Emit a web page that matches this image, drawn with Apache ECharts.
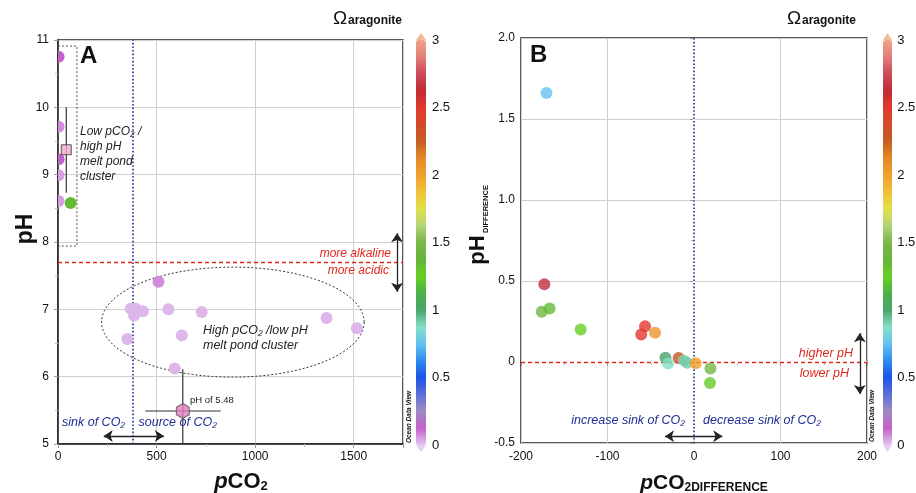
<!DOCTYPE html>
<html><head><meta charset="utf-8">
<script src="https://cdn.jsdelivr.net/npm/echarts@6/dist/echarts.min.js"></script>
<style>html,body{margin:0;padding:0;background:#fff}#c{width:916px;height:493px}</style>
</head><body><div id="c"></div>
<script>
// ---------- Panel A: pH vs pCO2 ----------
const pco2A  = [3, 3, 3, 3, 3, 64, 510, 369, 394, 386, 431, 560, 729, 1362, 1516, 352, 628, 592];
const phA    = [10.75, 9.71, 9.23, 8.99, 8.61, 8.58, 7.41, 7.01, 7.01, 6.91, 6.97, 7.00, 6.96, 6.87, 6.72, 6.56, 6.61, 6.12];
const omegaA = [0.13, 0.07, 0.14, 0.05, 0.05, 1.35, 0.07, 0.02, 0.02, 0.02, 0.02, 0.02, 0.02, 0.02, 0.02, 0.02, 0.02, 0.02];

// cluster means with error bars: [low-pCO2 cluster, high-pCO2 cluster]
const meanPCO2   = [42, 633];
const meanPH     = [9.37, 5.49];
const meanPCO2Lo = [42, 443];
const meanPCO2Hi = [42, 826];
const meanPHLo   = [8.73, 5.0];
const meanPHHi   = [10.0, 6.11];

// reference values
const atmPCO2 = 380;
const phThreshold = 7.7;

// cluster outlines (data units)
const boxLow = [0, 96, 7.94, 10.91];            // x0, x1, y0, y1
const ellipseHigh = [887, 6.81, 666, 0.817];    // cx, cy, rx, ry

// ---------- Panel B: pH difference vs pCO2 difference ----------
const pco2DiffB = [-170.5, -173, -176, -167, -131, -56.6, -61, -45, -33, -30, -17.7, -12, -8, 2, 19, 18.5];
const phDiffB   = [1.66, 0.48, 0.31, 0.33, 0.20, 0.22, 0.17, 0.18, 0.027, -0.01, 0.025, 0.01, -0.004, -0.008, -0.04, -0.13];
const omegaB    = [0.75, 2.65, 1.45, 1.35, 1.25, 2.5, 2.5, 2.05, 1.0, 0.88, 2.3, 0.9, 0.92, 2.0, 1.45, 1.28];

// colour bar ticks
const omegaTicks = [0, 0.5, 1, 1.5, 2, 2.5, 3];
const omegaColors = ['#e2c6f0','#c35fcb','#a08ac2','#5a70d8','#1c52e6','#2f8cf0','#64c2f0','#86e0c8',
  '#4aa36a','#4cb148','#66d024','#64b63a','#7cb648','#b2d478','#e2e04a','#f0c03a','#f0a02c','#e48a28',
  '#c45e22','#d24a2a','#e23a2e','#c02a36','#cc4a5a','#e27f7a','#f0a486'];

const FONT = '"Liberation Sans", Arial, Helvetica, sans-serif';
const BLUE = '#1f2d92', RED = '#e0281e';

const dataA = pco2A.map((x, i) => [x, phA[i], omegaA[i]]);
const dataB = pco2DiffB.map((x, i) => [x, phDiffB[i], omegaB[i]]);
const meanData = meanPCO2.map((x, i) => [x, meanPH[i], meanPCO2Lo[i], meanPCO2Hi[i], meanPHLo[i], meanPHHi[i]]);

const hexPath = 'path://M0,-1 L0.866,-0.5 L0.866,0.5 L0,1 L-0.866,0.5 L-0.866,-0.5 Z';

function axisCommon(extra) {
  return Object.assign({
    type: 'value',
    axisLine: { show: true, lineStyle: { color: '#222', width: 1.5 } },
    axisTick: { show: true, length: 4, lineStyle: { color: '#999' } },
    minorTick: { show: true, splitNumber: 2, length: 3, lineStyle: { color: '#bbb' } },
    splitLine: { show: true, lineStyle: { color: '#cfcfcf', width: 1 } },
    axisLabel: { color: '#111', fontSize: 12, fontFamily: FONT }
  }, extra);
}

function txt(x, y, text, st, extra) {
  return Object.assign({ type: 'text', x: x, y: y, silent: true, z: 50,
    style: Object.assign({ text: text, fontFamily: FONT, fontSize: 12, fill: '#222', align: 'left', verticalAlign: 'middle' }, st || {}) }, extra || {});
}

const chart = echarts.init(document.getElementById('c'));
const option = {
  animation: false,
  backgroundColor: '#fff',
  textStyle: { fontFamily: FONT },
  grid: [
    { left: 58, top: 40, width: 345, height: 404, show: true, borderColor: '#222', borderWidth: 1.5, backgroundColor: 'transparent' },
    { left: 521, top: 38, width: 346, height: 405, show: true, borderColor: '#222', borderWidth: 1.5, backgroundColor: 'transparent' },
    { left: 426, top: 40, width: 1, height: 405 },
    { left: 892, top: 40, width: 1, height: 405 }
  ],
  xAxis: [
    axisCommon({ gridIndex: 0, min: 0, max: 1750, interval: 500,
      axisLabel: { color: '#111', fontSize: 12, margin: 7, formatter: v => (v % 500 === 0 ? String(v) : '') } }),
    axisCommon({ gridIndex: 1, min: -200, max: 200, interval: 100,
      axisLabel: { color: '#111', fontSize: 12, margin: 8 } }),
    { gridIndex: 2, type: 'value', show: false },
    { gridIndex: 3, type: 'value', show: false }
  ],
  yAxis: [
    axisCommon({ gridIndex: 0, min: 5, max: 11, interval: 1,
      axisLabel: { color: '#111', fontSize: 12, margin: 9 } }),
    axisCommon({ gridIndex: 1, min: -0.5, max: 2, interval: 0.5,
      axisLabel: { color: '#111', fontSize: 12, margin: 6,
        formatter: v => (v === 0 ? '0' : (v === -0.5 ? '-0.5' : v.toFixed(1))) } }),
    { gridIndex: 2, type: 'value', min: omegaTicks[0], max: omegaTicks[omegaTicks.length - 1], interval: 0.5, position: 'right',
      axisLine: { show: false }, axisTick: { show: false }, splitLine: { show: false },
      axisLabel: { color: '#111', fontSize: 13, margin: 5 } },
    { gridIndex: 3, type: 'value', min: omegaTicks[0], max: omegaTicks[omegaTicks.length - 1], interval: 0.5, position: 'right',
      axisLine: { show: false }, axisTick: { show: false }, splitLine: { show: false },
      axisLabel: { color: '#111', fontSize: 13, margin: 5 } }
  ],
  visualMap: [
    { type: 'continuous', min: 0, max: 3, dimension: 2, seriesIndex: 0, calculable: false, hoverLink: false,
      orient: 'vertical', left: 416, top: 40, padding: 0, itemWidth: 10, itemHeight: 405,
      inRange: { color: omegaColors } },
    { type: 'continuous', min: 0, max: 3, dimension: 2, seriesIndex: 5, calculable: false, hoverLink: false,
      orient: 'vertical', left: 883, top: 40, padding: 0, itemWidth: 9, itemHeight: 405,
      inRange: { color: omegaColors } }
  ],
  series: [
    // 0: panel A samples (clipped to plot area)
    { type: 'custom', xAxisIndex: 0, yAxisIndex: 0, clip: true, z: 3, data: dataA,
      encode: { x: 0, y: 1 },
      renderItem: function (p, api) {
        const c = api.coord([api.value(0), api.value(1)]);
        return { type: 'circle', shape: { cx: c[0], cy: c[1], r: 6 }, style: { fill: api.visual('color') } };
      } },
    // 1: error bars
    { type: 'custom', xAxisIndex: 0, yAxisIndex: 0, z: 4, silent: true, data: meanData,
      encode: { x: [0, 2, 3], y: [1, 4, 5] },
      renderItem: function (p, api) {
        const x = api.value(0), y = api.value(1);
        const a = api.coord([api.value(2), y]), b = api.coord([api.value(3), y]);
        const c = api.coord([x, api.value(4)]), d = api.coord([x, api.value(5)]);
        const st = { stroke: '#333', lineWidth: 1.2 };
        return { type: 'group', children: [
          { type: 'line', shape: { x1: a[0], y1: a[1], x2: b[0], y2: b[1] }, style: st },
          { type: 'line', shape: { x1: c[0], y1: c[1], x2: d[0], y2: d[1] }, style: st }
        ] };
      } },
    // 2: cluster means + reference lines/arrows for panel A
    { type: 'scatter', xAxisIndex: 0, yAxisIndex: 0, z: 5, silent: true,
      data: [
        { value: [meanPCO2[0], meanPH[0]], symbol: 'rect', symbolSize: 10, itemStyle: { color: '#f2abd0', borderColor: '#333', borderWidth: 1 } },
        { value: [meanPCO2[1], meanPH[1]], symbol: hexPath, symbolSize: [13, 15], itemStyle: { color: '#e27cbf', borderColor: '#444', borderWidth: 1 } }
      ],
      markLine: { silent: true, symbol: 'none', z: 2, label: { show: false },
        data: [
          { xAxis: atmPCO2, lineStyle: { color: BLUE, type: [1.6, 2], width: 1.6 } },
          { yAxis: phThreshold, lineStyle: { color: RED, type: [4, 3], width: 1.4 } },
          [ { coord: [1720, 8.13], symbol: 'arrow', symbolSize: 9, lineStyle: { color: '#222', type: 'solid', width: 1.3 } },
            { coord: [1720, 7.26], symbol: 'arrow', symbolSize: 9 } ],
          [ { coord: [232, 5.12], symbol: 'arrow', symbolSize: 9, lineStyle: { color: '#222', type: 'solid', width: 1.3 } },
            { coord: [537, 5.12], symbol: 'arrow', symbolSize: 9 } ]
        ] } },
    // 3: dotted box around low-pCO2 cluster
    { type: 'custom', xAxisIndex: 0, yAxisIndex: 0, z: 2, silent: true, data: [boxLow],
      encode: { x: [0, 1], y: [2, 3] },
      renderItem: function (p, api) {
        const a = api.coord([api.value(0), api.value(3)]), b = api.coord([api.value(1), api.value(2)]);
        return { type: 'rect', shape: { x: a[0], y: a[1], width: b[0] - a[0], height: b[1] - a[1] },
          style: { fill: 'none', stroke: '#555', lineWidth: 1, lineDash: [2, 2] } };
      } },
    // 4: dotted ellipse around high-pCO2 cluster
    { type: 'custom', xAxisIndex: 0, yAxisIndex: 0, z: 2, silent: true, data: [ellipseHigh],
      encode: { x: 0, y: 1 },
      renderItem: function (p, api) {
        const c = api.coord([api.value(0), api.value(1)]);
        const s = api.size([api.value(2), api.value(3)]);
        const pts = [];
        for (let k = 0; k < 120; k++) { const t = k / 120 * Math.PI * 2; pts.push([c[0] + s[0] * Math.cos(t), c[1] + s[1] * Math.sin(t)]); }
        return { type: 'polygon', shape: { points: pts }, style: { fill: 'none', stroke: '#333', lineWidth: 1, lineDash: [2, 2] } };
      } },
    // 5: panel B samples + reference lines/arrows
    { type: 'scatter', xAxisIndex: 1, yAxisIndex: 1, z: 3, symbolSize: 12, data: dataB,
      markLine: { silent: true, symbol: 'none', z: 2, label: { show: false },
        data: [
          { xAxis: 0, lineStyle: { color: '#fff', type: 'solid', width: 2 } },
          { yAxis: 0, lineStyle: { color: '#fff', type: 'solid', width: 2 } },
          { xAxis: 0, lineStyle: { color: BLUE, type: [1.6, 2], width: 1.6 } },
          { yAxis: 0, lineStyle: { color: RED, type: [4, 3], width: 1.4 } },
          [ { coord: [191.7, 0.178], symbol: 'arrow', symbolSize: 9, lineStyle: { color: '#222', type: 'solid', width: 1.3 } },
            { coord: [191.7, -0.197], symbol: 'arrow', symbolSize: 9 } ],
          [ { coord: [-33.5, -0.458], symbol: 'arrow', symbolSize: 9, lineStyle: { color: '#222', type: 'solid', width: 1.3 } },
            { coord: [32.7, -0.458], symbol: 'arrow', symbolSize: 9 } ]
        ] } }
  ],
  graphic: [
    // panel letters
    txt(80, 56, 'A', { fontSize: 24, fontWeight: 'bold', fill: '#111' }),
    txt(530, 55, 'B', { fontSize: 24, fontWeight: 'bold', fill: '#111' }),
    // colour bar titles
    txt(333, 19, 'Ω', { fontSize: 19, fill: '#111' }),
    txt(348, 20.5, 'aragonite', { fontSize: 12, fontWeight: 'bold', fill: '#111' }),
    txt(787, 19, 'Ω', { fontSize: 19, fill: '#111' }),
    txt(802, 20.5, 'aragonite', { fontSize: 12, fontWeight: 'bold', fill: '#111' }),
    // colour bar caps
    { type: 'polygon', silent: true, shape: { points: [[416, 40], [426, 40], [421, 33]] }, style: { fill: '#f4bc92' } },
    { type: 'polygon', silent: true, shape: { points: [[416, 445], [426, 445], [421, 452]] }, style: { fill: '#e4ccf2' } },
    { type: 'polygon', silent: true, shape: { points: [[883, 40], [892, 40], [887.5, 33]] }, style: { fill: '#f4bc92' } },
    { type: 'polygon', silent: true, shape: { points: [[883, 445], [892, 445], [887.5, 452]] }, style: { fill: '#e4ccf2' } },
    // Ocean Data View tags
    txt(409, 417, 'Ocean Data View', { fontSize: 6.5, fontWeight: 'bold', fontStyle: 'italic', fill: '#111', align: 'center' }, { rotation: Math.PI / 2 }),
    txt(872, 416, 'Ocean Data View', { fontSize: 6.5, fontWeight: 'bold', fontStyle: 'italic', fill: '#111', align: 'center' }, { rotation: Math.PI / 2 }),
    // axis names
    txt(26, 229, 'pH', { fontSize: 23, fontWeight: 'bold', fill: '#111', align: 'center' }, { rotation: Math.PI / 2 }),
    { type: 'group', x: 478, y: 250, rotation: Math.PI / 2, silent: true, z: 50, children: [
      txt(0, 0, 'pH', { fontSize: 22, fontWeight: 'bold', fill: '#111', align: 'center' }),
      txt(17, 8, 'DIFFERENCE', { fontSize: 7.5, fontWeight: 'bold', fill: '#111' })
    ] },
    txt(241, 481, '{p|p}{c|CO}{s|2}', { align: 'center', fill: '#111',
      rich: { p: { fontSize: 22, fontWeight: 'bold', fontStyle: 'italic', lineHeight: 24, verticalAlign: 'bottom', fontFamily: FONT },
              c: { fontSize: 22, fontWeight: 'bold', lineHeight: 24, verticalAlign: 'bottom', fontFamily: FONT },
              s: { fontSize: 13, fontWeight: 'bold', lineHeight: 14, verticalAlign: 'bottom', fontFamily: FONT } } }),
    txt(704, 482, '{p|p}{c|CO}{s|2DIFFERENCE}', { align: 'center', fill: '#111',
      rich: { p: { fontSize: 21, fontWeight: 'bold', fontStyle: 'italic', lineHeight: 23, verticalAlign: 'bottom', fontFamily: FONT },
              c: { fontSize: 21, fontWeight: 'bold', lineHeight: 23, verticalAlign: 'bottom', fontFamily: FONT },
              s: { fontSize: 12, fontWeight: 'bold', lineHeight: 13, verticalAlign: 'bottom', fontFamily: FONT } } }),
    // panel A annotations
    txt(80, 131.5, 'Low pCO₂ /', { fontSize: 12, fontStyle: 'italic' }),
    txt(80, 147, 'high pH', { fontSize: 12, fontStyle: 'italic' }),
    txt(80, 162, 'melt pond', { fontSize: 12, fontStyle: 'italic' }),
    txt(80, 177, 'cluster', { fontSize: 12, fontStyle: 'italic' }),
    txt(203, 331, 'High pCO₂ /low pH', { fontSize: 12.5, fontStyle: 'italic' }),
    txt(203, 346, 'melt pond cluster', { fontSize: 12.5, fontStyle: 'italic' }),
    txt(391, 253.5, 'more alkaline', { fontSize: 12, fontStyle: 'italic', fill: RED, align: 'right' }),
    txt(389, 271, 'more acidic', { fontSize: 12, fontStyle: 'italic', fill: RED, align: 'right' }),
    txt(62, 423, 'sink of CO₂', { fontSize: 12.5, fontStyle: 'italic', fill: BLUE }),
    txt(138.5, 423, 'source of CO₂', { fontSize: 12.5, fontStyle: 'italic', fill: BLUE }),
    txt(190, 400, 'pH of 5.48', { fontSize: 9.5, fill: '#222' }),
    // panel B annotations
    txt(685, 421, 'increase sink of CO₂', { fontSize: 12.5, fontStyle: 'italic', fill: BLUE, align: 'right' }),
    txt(703, 421, 'decrease sink of CO₂', { fontSize: 12.5, fontStyle: 'italic', fill: BLUE }),
    txt(853, 353.5, 'higher pH', { fontSize: 12.5, fontStyle: 'italic', fill: RED, align: 'right' }),
    txt(849, 373.5, 'lower pH', { fontSize: 12.5, fontStyle: 'italic', fill: RED, align: 'right' })
  ]
};
chart.setOption(option);
</script></body></html>
